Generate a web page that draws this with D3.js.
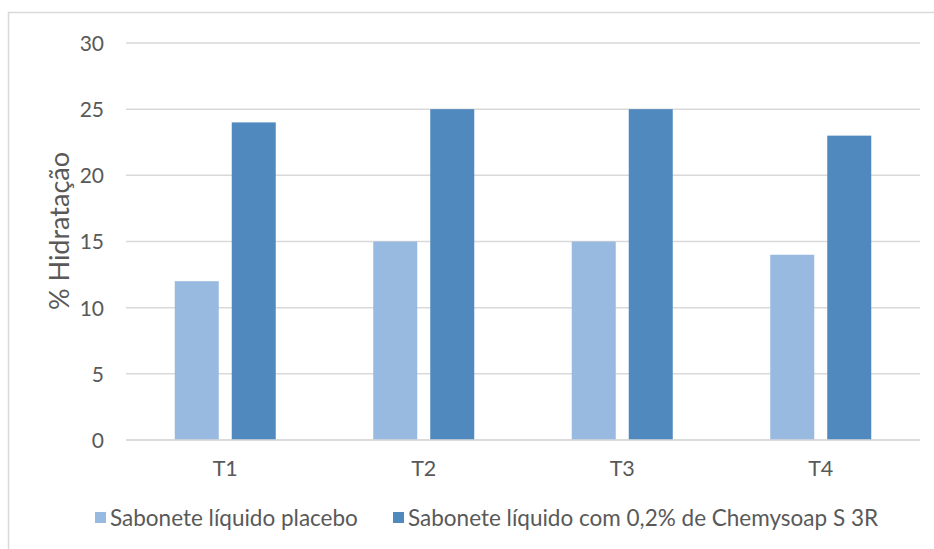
<!DOCTYPE html>
<html><head><meta charset="utf-8">
<script src="https://cdn.jsdelivr.net/npm/d3@7"></script>
<style>body{margin:0;background:#fff;} svg{display:block;}</style>
</head><body>
<script>
const categories = ["T1","T2","T3","T4"];
const seriesNames = ["Sabonete líquido placebo","Sabonete líquido com 0,2% de Chemysoap S 3R"];
const placebo = [12,15,15,14];
const chemysoap = [24,25,25,23];
const yTicks = [0,5,10,15,20,25,30];
const colors = ["#98b9e0","#4f89bd"];

const W=934,H=549;
const svg=d3.select("body").append("svg").attr("width",W).attr("height",H);
const font="Lato, 'Open Sans', sans-serif";
svg.append("rect").attr("x",8.5).attr("y",12.5).attr("width",W).attr("height",H).attr("fill","#fff").attr("stroke","#d9d9d9").attr("stroke-width",1.5);

const x0=d3.scaleBand().domain(categories).range([126,920]);
const y=d3.scaleLinear().domain([0,30]).range([440,43]);

svg.append("g").selectAll("line").data(yTicks).join("line")
  .attr("x1",126).attr("x2",920).attr("y1",d=>y(d)).attr("y2",d=>y(d))
  .attr("stroke","#d9d9d9").attr("stroke-width",1.5);

const yAxis=d3.axisLeft(y).tickValues(yTicks).tickSize(0).tickPadding(0);
const ga=svg.append("g").attr("transform","translate(104,0)").call(yAxis);
ga.select(".domain").remove();
ga.selectAll("text").attr("font-family",font).attr("font-size",21).attr("fill","#595959").attr("dy","0.35em");

const barW=44,gap=13;
const g=svg.append("g");
categories.forEach((c,i)=>{
  const cx=x0(c)+x0.bandwidth()/2;
  [placebo[i],chemysoap[i]].forEach((v,j)=>{
    const bx = j===0 ? cx-gap/2-barW : cx+gap/2;
    g.append("rect").attr("x",bx).attr("y",y(v)).attr("width",barW).attr("height",y(0)-y(v)).attr("fill",colors[j]);
  });
});
svg.append("line").attr("x1",126).attr("x2",920).attr("y1",y(0)).attr("y2",y(0)).attr("stroke","#d9d9d9").attr("stroke-width",1.5);

const xAxis=d3.axisBottom(x0).tickSize(0).tickPadding(0);
const gx=svg.append("g").attr("transform","translate(0,468)").call(xAxis);
gx.select(".domain").remove();
gx.selectAll("text").attr("font-family",font).attr("font-size",21.5).attr("fill","#595959").attr("dy","0.35em");

svg.append("text").attr("transform","translate(60,231) rotate(-90)").attr("text-anchor","middle")
  .attr("font-family",font).attr("font-size",27).attr("fill","#595959").attr("dy","0.35em").text("% Hidratação");

const legX=[95,393];
seriesNames.forEach((n,i)=>{
  svg.append("rect").attr("x",legX[i]).attr("y",512).attr("width",11).attr("height",11).attr("fill",colors[i]);
  svg.append("text").attr("x",legX[i]+15).attr("y",518).attr("dy","0.35em").attr("font-family",font).attr("font-size",22.5).attr("fill","#595959").text(n);
});
</script>
</body></html>
